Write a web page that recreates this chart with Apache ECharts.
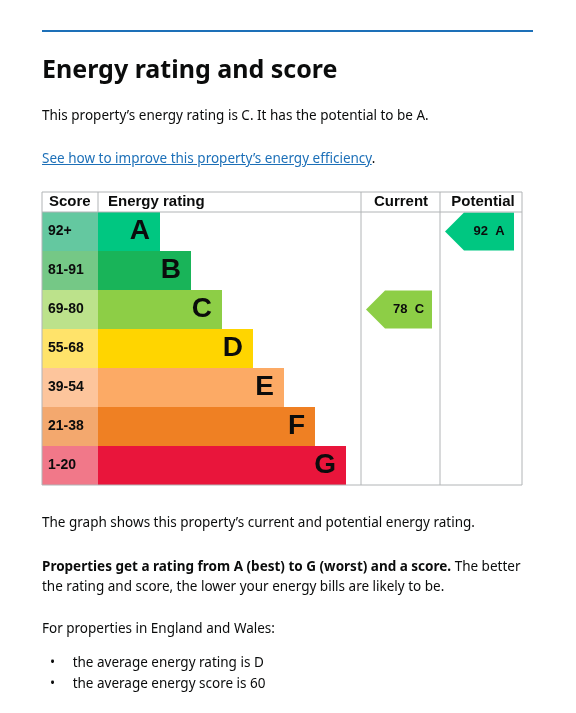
<!DOCTYPE html>
<html><head><meta charset="utf-8">
<script src="https://cdn.jsdelivr.net/npm/echarts@6/dist/echarts.min.js"></script>
<style>
body{margin:0;background:#fff;font-family:"Noto Sans",sans-serif;color:#0b0c0c}
#c{position:absolute;left:0;top:0;width:576px;height:713px}
.t{position:absolute;left:42px;margin:0;white-space:nowrap;font-size:13.5px}
</style></head><body>
<div id="c"></div>
<div style="position:absolute;left:42px;top:30px;width:491px;height:2px;background:#1d70b8"></div>
<h1 class="t" style="top:51px;font-size:25px;font-weight:700">Energy rating and score</h1>
<p class="t" style="top:106px">This property’s energy rating is C. It has the potential to be A.</p>
<p class="t" style="top:149px"><span style="color:#1d70b8;text-decoration:underline">See how to improve this property’s energy efficiency</span>.</p>
<p class="t" style="top:513px">The graph shows this property’s current and potential energy rating.</p>
<p class="t" style="top:556px;line-height:20px"><b>Properties get a rating from A (best) to G (worst) and a score.</b> The better<br>the rating and score, the lower your energy bills are likely to be.</p>
<p class="t" style="top:619px">For properties in England and Wales:</p>
<p class="t" style="top:652px;line-height:21px;left:50px">&#8226;&nbsp;&nbsp;&nbsp;&nbsp;&nbsp;the average energy rating is D<br>&#8226;&nbsp;&nbsp;&nbsp;&nbsp;&nbsp;the average energy score is 60</p>
<script>
const ratings=['A','B','C','D','E','F','G'];
const scoreBands=['92+','81-91','69-80','55-68','39-54','21-38','1-20'];
const barLengths=[2,3,4,5,6,7,8];
const bandColors=['#00c781','#19b459','#8dce46','#ffd500','#fcaa65','#ef8023','#e9153b'];
const scoreColors=['#64c8a0','#75c886','#bce28b','#ffe36a','#fdc59c','#f3a86e','#f17889'];
const current={score:78,rating:'C'};
const potential={score:92,rating:'A'};

const T=212,H=273;
const chart=echarts.init(document.getElementById('c'));
function grid(l,w){return {left:l,top:T,width:w,height:H};}
function yAx(i){return {type:'category',data:ratings,inverse:true,gridIndex:i,show:false};}
function xAx(i,max){return {type:'value',min:0,max:max,gridIndex:i,show:false};}
function arrow(params,api){
  const y=api.coord([0,api.value(0)])[1];
  const band=api.size([0,1])[1];
  const cs=params.coordSys;
  const x0=cs.x+5,x1=cs.x+cs.width-8,y0=y-band/2+0.5,y1=y+band/2-0.5,n=19;
  return {type:'group',children:[
    {type:'polygon',shape:{points:[[x0,y],[x0+n,y0],[x1,y0],[x1,y1],[x0+n,y1]]},style:{fill:api.visual('color')}},
    {type:'text',style:{text:api.value(1)+'  '+api.value(2),x:(x0+n+x1)/2,y:y,align:'center',verticalAlign:'middle',font:'bold 13px "Liberation Sans",Arial',fill:'#0b0c0c'}}
  ]};
}
const ci=ratings.indexOf(current.rating),pi=ratings.indexOf(potential.rating);
const L='#b1b4b6';
const F='"Liberation Sans",Arial';
chart.setOption({
  animation:false,
  grid:[grid(42,56),grid(98,248),grid(361,79),grid(440,82)],
  xAxis:[xAx(0,1),xAx(1,8),xAx(2,1),xAx(3,1)],
  yAxis:[yAx(0),yAx(1),yAx(2),yAx(3)],
  series:[
    {type:'bar',xAxisIndex:0,yAxisIndex:0,barCategoryGap:0,
     data:scoreBands.map((s,i)=>({value:1,name:s,itemStyle:{color:scoreColors[i]}})),
     label:{show:true,position:'insideLeft',distance:6,formatter:p=>p.name,fontSize:14,fontWeight:'bold',fontFamily:F,color:'#0b0c0c'}},
    {type:'bar',xAxisIndex:1,yAxisIndex:1,barCategoryGap:0,
     data:barLengths.map((v,i)=>({value:v,itemStyle:{color:bandColors[i]}})),
     label:{show:true,position:'insideRight',distance:10,formatter:p=>ratings[p.dataIndex],fontSize:28,fontWeight:'bold',fontFamily:F,color:'#0b0c0c'}},
    {type:'custom',xAxisIndex:2,yAxisIndex:2,renderItem:arrow,
     data:[{value:[ci,current.score,current.rating],itemStyle:{color:bandColors[ci]}}]},
    {type:'custom',xAxisIndex:3,yAxisIndex:3,renderItem:arrow,
     data:[{value:[pi,potential.score,potential.rating],itemStyle:{color:bandColors[pi]}}]}
  ],
  graphic:[
    {type:'rect',shape:{x:42,y:192,width:480,height:293},style:{fill:null,stroke:L,lineWidth:1},z:10},
    {type:'line',shape:{x1:42,y1:212,x2:522,y2:212},style:{stroke:L},z:10},
    {type:'line',shape:{x1:98,y1:192,x2:98,y2:212},style:{stroke:L},z:10},
    {type:'line',shape:{x1:361,y1:192,x2:361,y2:485},style:{stroke:L},z:10},
    {type:'line',shape:{x1:440,y1:192,x2:440,y2:485},style:{stroke:L},z:10},
    {type:'text',style:{text:'Score',x:49,y:202,verticalAlign:'middle',font:'bold 15px '+F,fill:'#0b0c0c'}},
    {type:'text',style:{text:'Energy rating',x:108,y:202,verticalAlign:'middle',font:'bold 15px '+F,fill:'#0b0c0c'}},
    {type:'text',style:{text:'Current',x:401,y:202,align:'center',verticalAlign:'middle',font:'bold 15px '+F,fill:'#0b0c0c'}},
    {type:'text',style:{text:'Potential',x:483,y:202,align:'center',verticalAlign:'middle',font:'bold 15px '+F,fill:'#0b0c0c'}}
  ]
});
</script></body></html>
